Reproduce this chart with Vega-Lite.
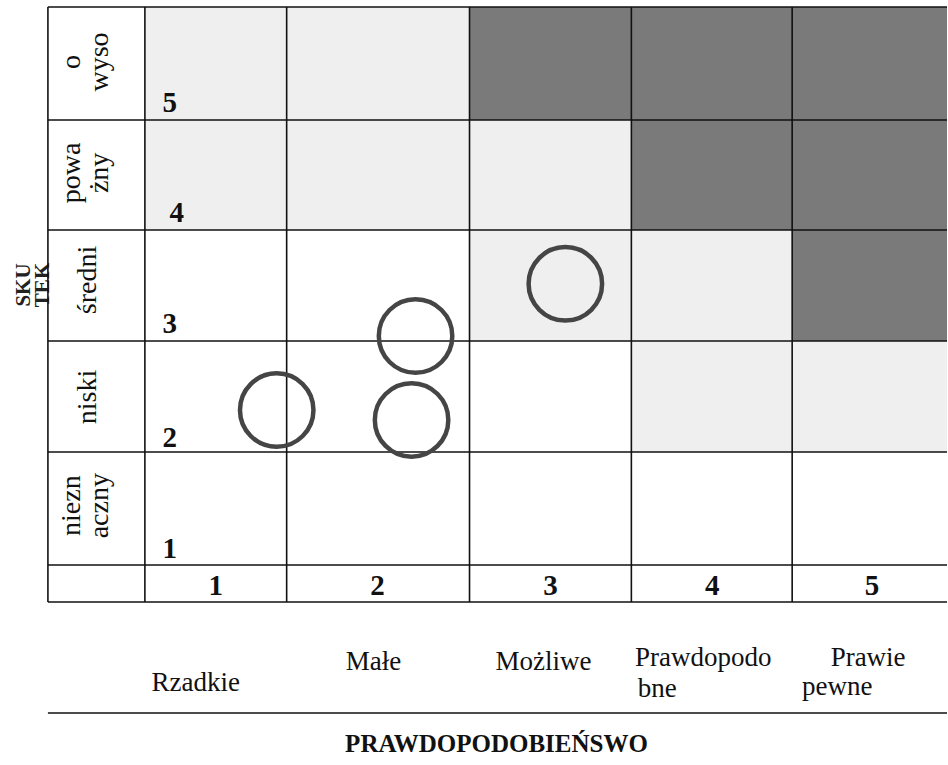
{
  "$schema": "https://vega.github.io/schema/vega-lite/v6.json",
  "width": 948,
  "height": 765,
  "padding": 0,
  "autosize": {"type": "fit", "contains": "padding"},
  "background": "white",
  "config": {"view": {"stroke": null}, "font": "Liberation Serif", "mark": {"font": "Liberation Serif"}},
  "datasets": {
    "cells": [
      {"col": 1, "row": 5, "x0": 15.30, "x1": 30.27, "y0": 0.92, "y1": 15.69, "level": "light"},
      {"col": 2, "row": 5, "x0": 30.27, "x1": 49.58, "y0": 0.92, "y1": 15.69, "level": "light"},
      {"col": 3, "row": 5, "x0": 49.58, "x1": 66.67, "y0": 0.92, "y1": 15.69, "level": "dark"},
      {"col": 4, "row": 5, "x0": 66.67, "x1": 83.65, "y0": 0.92, "y1": 15.69, "level": "dark"},
      {"col": 5, "row": 5, "x0": 83.65, "x1": 100, "y0": 0.92, "y1": 15.69, "level": "dark"},
      {"col": 1, "row": 4, "x0": 15.30, "x1": 30.27, "y0": 15.69, "y1": 30.07, "level": "light"},
      {"col": 2, "row": 4, "x0": 30.27, "x1": 49.58, "y0": 15.69, "y1": 30.07, "level": "light"},
      {"col": 3, "row": 4, "x0": 49.58, "x1": 66.67, "y0": 15.69, "y1": 30.07, "level": "light"},
      {"col": 4, "row": 4, "x0": 66.67, "x1": 83.65, "y0": 15.69, "y1": 30.07, "level": "dark"},
      {"col": 5, "row": 4, "x0": 83.65, "x1": 100, "y0": 15.69, "y1": 30.07, "level": "dark"},
      {"col": 1, "row": 3, "x0": 15.30, "x1": 30.27, "y0": 30.07, "y1": 44.58, "level": "none"},
      {"col": 2, "row": 3, "x0": 30.27, "x1": 49.58, "y0": 30.07, "y1": 44.58, "level": "none"},
      {"col": 3, "row": 3, "x0": 49.58, "x1": 66.67, "y0": 30.07, "y1": 44.58, "level": "light"},
      {"col": 4, "row": 3, "x0": 66.67, "x1": 83.65, "y0": 30.07, "y1": 44.58, "level": "light"},
      {"col": 5, "row": 3, "x0": 83.65, "x1": 100, "y0": 30.07, "y1": 44.58, "level": "dark"},
      {"col": 1, "row": 2, "x0": 15.30, "x1": 30.27, "y0": 44.58, "y1": 59.08, "level": "none"},
      {"col": 2, "row": 2, "x0": 30.27, "x1": 49.58, "y0": 44.58, "y1": 59.08, "level": "none"},
      {"col": 3, "row": 2, "x0": 49.58, "x1": 66.67, "y0": 44.58, "y1": 59.08, "level": "none"},
      {"col": 4, "row": 2, "x0": 66.67, "x1": 83.65, "y0": 44.58, "y1": 59.08, "level": "light"},
      {"col": 5, "row": 2, "x0": 83.65, "x1": 100, "y0": 44.58, "y1": 59.08, "level": "light"},
      {"col": 1, "row": 1, "x0": 15.30, "x1": 30.27, "y0": 59.08, "y1": 73.86, "level": "none"},
      {"col": 2, "row": 1, "x0": 30.27, "x1": 49.58, "y0": 59.08, "y1": 73.86, "level": "none"},
      {"col": 3, "row": 1, "x0": 49.58, "x1": 66.67, "y0": 59.08, "y1": 73.86, "level": "none"},
      {"col": 4, "row": 1, "x0": 66.67, "x1": 83.65, "y0": 59.08, "y1": 73.86, "level": "none"},
      {"col": 5, "row": 1, "x0": 83.65, "x1": 100, "y0": 59.08, "y1": 73.86, "level": "none"}
    ],
    "lines": [
      {"x0": 5.06, "x1": 100, "y0": 0.92, "y1": 0.92},
      {"x0": 5.06, "x1": 100, "y0": 15.69, "y1": 15.69},
      {"x0": 5.06, "x1": 100, "y0": 30.07, "y1": 30.07},
      {"x0": 5.06, "x1": 100, "y0": 44.58, "y1": 44.58},
      {"x0": 5.06, "x1": 100, "y0": 59.08, "y1": 59.08},
      {"x0": 5.06, "x1": 100, "y0": 73.86, "y1": 73.86},
      {"x0": 5.06, "x1": 100, "y0": 78.69, "y1": 78.69},
      {"x0": 5.06, "x1": 100, "y0": 93.20, "y1": 93.20},
      {"x0": 5.06, "x1": 5.06, "y0": 0.92, "y1": 78.69},
      {"x0": 15.30, "x1": 15.30, "y0": 0.92, "y1": 78.69},
      {"x0": 30.27, "x1": 30.27, "y0": 0.92, "y1": 78.69},
      {"x0": 49.58, "x1": 49.58, "y0": 0.92, "y1": 78.69},
      {"x0": 66.67, "x1": 66.67, "y0": 0.92, "y1": 78.69},
      {"x0": 83.65, "x1": 83.65, "y0": 0.92, "y1": 78.69}
    ],
    "risks": [
      {"x": 29.22, "y": 53.60},
      {"x": 43.88, "y": 43.92},
      {"x": 43.46, "y": 54.90},
      {"x": 59.70, "y": 37.10}
    ],
    "rowLabels": [
      {"x": 7.59, "y": 8.10, "label": "o"},
      {"x": 10.55, "y": 8.10, "label": "wyso"},
      {"x": 7.59, "y": 22.60, "label": "powa"},
      {"x": 10.55, "y": 22.60, "label": "żny"},
      {"x": 9.28, "y": 36.60, "label": "średni"},
      {"x": 9.28, "y": 51.90, "label": "niski"},
      {"x": 7.59, "y": 66.10, "label": "niezn"},
      {"x": 10.55, "y": 66.10, "label": "aczny"}
    ],
    "rowNumbers": [
      {"x": 17.93, "y": 14.64, "label": "5"},
      {"x": 18.67, "y": 29.02, "label": "4"},
      {"x": 17.93, "y": 43.53, "label": "3"},
      {"x": 17.93, "y": 58.43, "label": "2"},
      {"x": 17.93, "y": 72.94, "label": "1"}
    ],
    "colNumbers": [
      {"x": 22.78, "y": 77.75, "label": "1"},
      {"x": 39.87, "y": 77.75, "label": "2"},
      {"x": 58.12, "y": 77.75, "label": "3"},
      {"x": 75.21, "y": 77.75, "label": "4"},
      {"x": 92.09, "y": 77.75, "label": "5"}
    ],
    "categories": [
      {"x": 20.68, "y": 90.30, "label": "Rzadkie"},
      {"x": 39.45, "y": 87.58, "label": "Małe"},
      {"x": 57.38, "y": 87.58, "label": "Możliwe"},
      {"x": 74.26, "y": 87.06, "label": "Prawdopodo"},
      {"x": 69.40, "y": 91.10, "label": "bne"},
      {"x": 91.67, "y": 87.06, "label": "Prawie"},
      {"x": 88.40, "y": 90.85, "label": "pewne"}
    ],
    "title": [
      {"x": 52.43, "y": 98.30, "label": "PRAWDOPODOBIEŃSWO"}
    ],
    "sideTitle": [
      {"x": 2.50, "y": 37.25, "label": "SKU"},
      {"x": 4.50, "y": 37.25, "label": "TEK"}
    ]
  },
  "layer": [
    {
      "data": {"name": "cells"},
      "mark": {"type": "rect"},
      "encoding": {
        "x": {"field": "x0", "type": "quantitative", "scale": {"domain": [0, 100], "nice": false, "zero": false}, "axis": null},
        "x2": {"field": "x1"},
        "y": {"field": "y0", "type": "quantitative", "scale": {"domain": [0, 100], "nice": false, "zero": false, "reverse": true}, "axis": null},
        "y2": {"field": "y1"},
        "color": {"field": "level", "type": "nominal", "scale": {"domain": ["none", "light", "dark"], "range": ["#ffffff", "#efefef", "#7a7a7a"]}, "legend": null}
      }
    },
    {
      "data": {"name": "sideTitle"},
      "mark": {"type": "text", "font": "Liberation Serif", "angle": 270, "fontSize": 21, "fontWeight": "bold", "align": "center", "baseline": "middle", "color": "#222222"},
      "encoding": {
        "x": {"field": "x", "type": "quantitative"},
        "y": {"field": "y", "type": "quantitative"},
        "text": {"field": "label"}
      }
    },
    {
      "data": {"name": "lines"},
      "mark": {"type": "rule", "color": "#111111", "strokeWidth": 1.6},
      "encoding": {
        "x": {"field": "x0", "type": "quantitative"},
        "x2": {"field": "x1"},
        "y": {"field": "y0", "type": "quantitative"},
        "y2": {"field": "y1"}
      }
    },
    {
      "data": {"name": "risks"},
      "mark": {"type": "point", "shape": "circle", "filled": false, "stroke": "#454545", "strokeWidth": 4.5, "size": 5400, "opacity": 1},
      "encoding": {
        "x": {"field": "x", "type": "quantitative"},
        "y": {"field": "y", "type": "quantitative"}
      }
    },
    {
      "data": {"name": "rowLabels"},
      "mark": {"type": "text", "font": "Liberation Serif", "angle": 270, "fontSize": 28, "align": "center", "baseline": "middle", "color": "#111111"},
      "encoding": {
        "x": {"field": "x", "type": "quantitative"},
        "y": {"field": "y", "type": "quantitative"},
        "text": {"field": "label"}
      }
    },
    {
      "data": {"name": "rowNumbers"},
      "mark": {"type": "text", "font": "Liberation Serif", "fontSize": 29, "fontWeight": "bold", "align": "center", "baseline": "alphabetic", "color": "#111111"},
      "encoding": {
        "x": {"field": "x", "type": "quantitative"},
        "y": {"field": "y", "type": "quantitative"},
        "text": {"field": "label"}
      }
    },
    {
      "data": {"name": "colNumbers"},
      "mark": {"type": "text", "font": "Liberation Serif", "fontSize": 29, "fontWeight": "bold", "align": "center", "baseline": "alphabetic", "color": "#111111"},
      "encoding": {
        "x": {"field": "x", "type": "quantitative"},
        "y": {"field": "y", "type": "quantitative"},
        "text": {"field": "label"}
      }
    },
    {
      "data": {"name": "categories"},
      "mark": {"type": "text", "font": "Liberation Serif", "fontSize": 27, "align": "center", "baseline": "alphabetic", "color": "#111111"},
      "encoding": {
        "x": {"field": "x", "type": "quantitative"},
        "y": {"field": "y", "type": "quantitative"},
        "text": {"field": "label"}
      }
    },
    {
      "data": {"name": "title"},
      "mark": {"type": "text", "font": "Liberation Serif", "fontSize": 25, "fontWeight": "bold", "align": "center", "baseline": "alphabetic", "color": "#111111"},
      "encoding": {
        "x": {"field": "x", "type": "quantitative"},
        "y": {"field": "y", "type": "quantitative"},
        "text": {"field": "label"}
      }
    }
  ]
}
